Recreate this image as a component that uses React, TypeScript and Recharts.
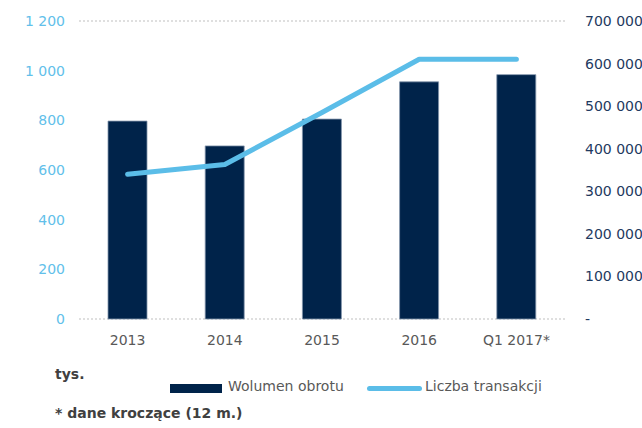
import { Bar, CartesianGrid, ComposedChart, Line, XAxis, YAxis } from 'recharts';

const categories = ['2013', '2014', '2015', '2016', 'Q1 2017*'];
const wolumen = [797, 697, 805, 955, 984];
const transakcje = [340000, 363000, 485000, 610000, 610000];
const leftTicks = [0, 200, 400, 600, 800, 1000, 1200];
const rightTicks = [0, 100000, 200000, 300000, 400000, 500000, 600000, 700000];

const data = categories.map((name, i) => ({
  name,
  wolumen: wolumen[i],
  transakcje: transakcje[i],
}));

const font = '"DejaVu Sans", Verdana, sans-serif';
const navy = '#00234a';
const sky = '#5bbde8';

const fmt = (v: number) => String(v).replace(/\B(?=(\d{3})+(?!\d))/g, ' ');

function LegendBox() {
  return (
    <div style={{ position: 'absolute', left: 0, top: 378, width: 642, height: 20, fontFamily: font, fontSize: 14, color: '#595959' }}>
      <div style={{ position: 'absolute', left: 170, top: 6, width: 52, height: 9, background: navy }} />
      <span style={{ position: 'absolute', left: 228, top: 0 }}>Wolumen obrotu</span>
      <div style={{ position: 'absolute', left: 367, top: 8, width: 55, height: 5, borderRadius: 3, background: sky }} />
      <span style={{ position: 'absolute', left: 425, top: 0 }}>Liczba transakcji</span>
    </div>
  );
}

export default function App() {
  return (
    <div style={{ position: 'absolute', left: 0, top: 0, width: 642, height: 428, background: '#fff' }}>
      <ComposedChart
        width={642}
        height={428}
        data={data}
        margin={{ top: 21, right: 0, left: 0, bottom: 79 }}
        barSize={39}
      >
        <CartesianGrid vertical={false} stroke="#bfbfbf" strokeDasharray="2 2" />
        <XAxis
          dataKey="name"
          axisLine={false}
          tickLine={false}
          height={30}
          tickMargin={10}
          tick={{ fill: '#595959', fontSize: 14, fontFamily: font }}
        />
        <YAxis
          yAxisId="left"
          width={79}
          domain={[0, 1200]}
          ticks={leftTicks}
          axisLine={false}
          tickLine={false}
          tickMargin={8}
          tickFormatter={fmt}
          tick={{ fill: '#62bfea', fontSize: 14, fontFamily: font }}
        />
        <YAxis
          yAxisId="right"
          orientation="right"
          width={77}
          domain={[0, 700000]}
          ticks={rightTicks}
          axisLine={false}
          tickLine={false}
          tickMargin={14}
          tickFormatter={(v: number) => (v === 0 ? '-' : fmt(v))}
          tick={{ fill: '#1f3a5f', fontSize: 14, fontFamily: font, textAnchor: 'start' }}
        />
        <Bar
          yAxisId="left"
          dataKey="wolumen"
          name="Wolumen obrotu"
          fill={navy}
          stroke="#8194ab"
          strokeWidth={0.8}
          isAnimationActive={false}
        />
        <Line
          yAxisId="right"
          type="linear"
          dataKey="transakcje"
          name="Liczba transakcji"
          stroke={sky}
          strokeWidth={5}
          strokeLinecap="round"
          strokeLinejoin="round"
          dot={false}
          activeDot={false}
          isAnimationActive={false}
        />
      </ComposedChart>
      <LegendBox />
      <div style={{ position: 'absolute', left: 55, top: 366, fontFamily: font, fontSize: 14, fontWeight: 'bold', color: '#404040' }}>
        tys.
      </div>
      <div style={{ position: 'absolute', left: 55, top: 405, fontFamily: font, fontSize: 14, fontWeight: 'bold', color: '#404040' }}>
        * dane kroczące (12 m.)
      </div>
    </div>
  );
}
